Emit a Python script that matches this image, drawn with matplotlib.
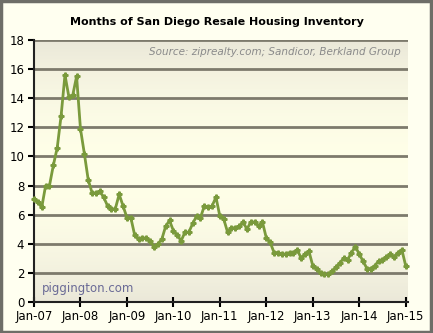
import numpy as np
import matplotlib.pyplot as plt
from matplotlib.patches import Rectangle

# months of resale inventory, monthly from Jan-07 to Jan-15
inventory_2007 = [7.1, 6.9, 6.5, 8.0, 8.0, 9.4, 10.6, 12.8, 15.6, 14.1, 14.2, 15.5]
inventory_2008 = [11.9, 10.2, 8.4, 7.5, 7.5, 7.6, 7.2, 6.6, 6.4, 6.4, 7.4, 6.6]
inventory_2009 = [5.8, 5.8, 4.6, 4.3, 4.4, 4.4, 4.2, 3.8, 4.0, 4.3, 5.2, 5.6]
inventory_2010 = [4.9, 4.6, 4.2, 4.8, 4.8, 5.4, 5.9, 5.8, 6.6, 6.5, 6.6, 7.2]
inventory_2011 = [5.9, 5.7, 4.8, 5.1, 5.1, 5.2, 5.5, 5.0, 5.5, 5.5, 5.2, 5.5]
inventory_2012 = [4.4, 4.1, 3.4, 3.4, 3.3, 3.3, 3.4, 3.4, 3.6, 3.0, 3.3, 3.5]
inventory_2013 = [2.5, 2.3, 2.0, 1.9, 1.9, 2.1, 2.4, 2.7, 3.0, 2.9, 3.4, 3.8]
inventory_2014 = [3.3, 2.8, 2.3, 2.3, 2.5, 2.8, 2.9, 3.1, 3.3, 3.1, 3.4, 3.6]
inventory_2015 = [2.5]

tick_labels = ["Jan-07", "Jan-08", "Jan-09", "Jan-10", "Jan-11",
               "Jan-12", "Jan-13", "Jan-14", "Jan-15"]

inventory = (inventory_2007 + inventory_2008 + inventory_2009 + inventory_2010
             + inventory_2011 + inventory_2012 + inventory_2013 + inventory_2014
             + inventory_2015)
months = np.arange(len(inventory))

fig = plt.figure(figsize=(4.33, 3.33), dpi=100, facecolor="#fffff0")
ax = fig.add_axes([34 / 433, 1 - 302 / 333, 374 / 433, 262 / 333])

# soft vertical gradient behind the plot
shade = np.abs(np.linspace(-1, 1, 200)) ** 2
top, mid = np.array([0.92, 0.91, 0.85]), np.array([1.0, 1.0, 0.91])
grad = mid + (top - mid) * shade[:, None]
ax.imshow(grad[:, None, :], aspect="auto", extent=[0, 1, 0, 1],
          transform=ax.transAxes, zorder=0)

for y in range(2, 19, 2):
    ax.axhline(y, color="#7d7a6c", lw=2, zorder=1)

ax.plot(months, inventory, color="#7a9a3c", lw=2, marker="P", ms=3.5,
        zorder=3, clip_on=False)

ax.set_xlim(0, 96.6)
ax.set_ylim(0, 18)
ax.set_yticks(range(0, 19, 2))
ax.set_xticks(range(0, 97, 12))
ax.set_xticklabels(tick_labels)
ax.tick_params(axis="x", direction="inout", length=7, width=1.5, labelsize=8.5, pad=2.5)
ax.tick_params(axis="y", direction="out", length=4, width=1.5, labelsize=8.5, pad=3)
for s in ["top", "right"]:
    ax.spines[s].set_visible(False)
for s in ["left", "bottom"]:
    ax.spines[s].set_color("#222222")
    ax.spines[s].set_linewidth(1.5)

fig.text(0.5, 1 - 22 / 333, "Months of San Diego Resale Housing Inventory",
         ha="center", va="center", fontsize=8, fontweight="bold")
ax.text(0.98, 0.955, "Source: ziprealty.com; Sandicor, Berkland Group",
        transform=ax.transAxes, ha="right", va="center", fontsize=7.5,
        style="italic", color="#8a8a8a")
ax.text(0.02, 0.05, "piggington.com", transform=ax.transAxes, ha="left",
        va="center", fontsize=8.5, color="#6a6a96")

fig.patches.append(Rectangle((0.003, 0.004), 0.992, 0.992, transform=fig.transFigure,
                             fill=False, ec="#6e6e68", lw=2.5))

fig.savefig("out.png", dpi=100, facecolor=fig.get_facecolor())
